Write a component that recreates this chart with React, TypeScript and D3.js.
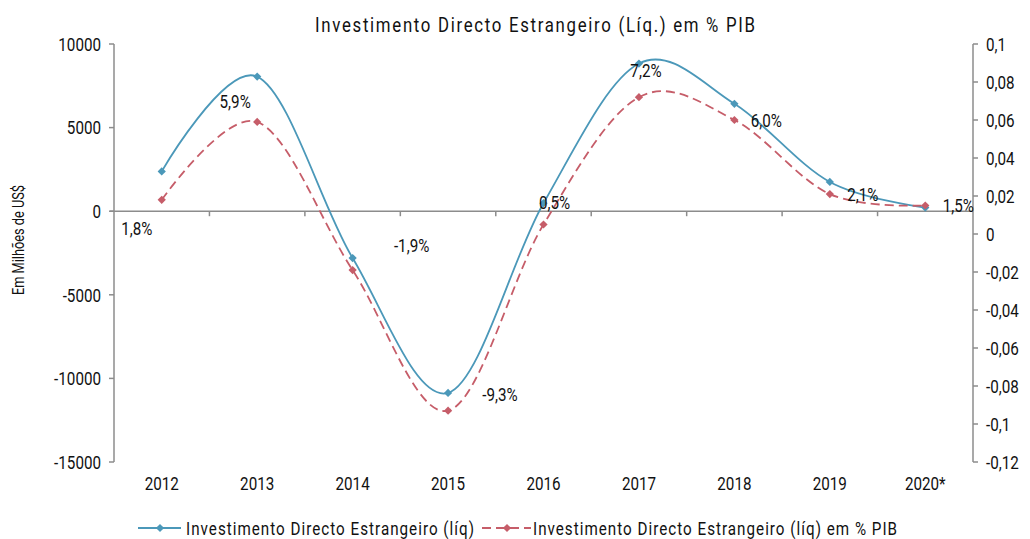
import React from 'react';
import * as d3 from 'd3';

const years = ['2012', '2013', '2014', '2015', '2016', '2017', '2018', '2019', '2020*'];
const fdiMillions = [2380, 8050, -2800, -10870, 480, 8830, 6420, 1750, 220];
const fdiPctGdp = [0.018, 0.059, -0.019, -0.093, 0.005, 0.072, 0.06, 0.021, 0.015];
const pctLabels = ['1,8%', '5,9%', '-1,9%', '-9,3%', '0,5%', '7,2%', '6,0%', '2,1%', '1,5%'];
const leftTicks = [10000, 5000, 0, -5000, -10000, -15000];
const rightTicks = [0.1, 0.08, 0.06, 0.04, 0.02, 0, -0.02, -0.04, -0.06, -0.08, -0.1, -0.12];

const title = 'Investimento Directo Estrangeiro (Líq.) em % PIB';
const yTitle = 'Em Milhões de US$';
const legend1 = 'Investimento Directo Estrangeiro (líq)';
const legend2 = 'Investimento Directo Estrangeiro (líq) em % PIB';

// label placement offsets relative to the % marker (layout only)
const labelOffsets: [number, number][] = [
  [-25, 28], [-22, -21], [59, -25], [52, -17], [11, -22], [7, -27], [32, 0], [33, 0], [33, 0],
];

const W = 1030;
const H = 539;
const FONT = "Roboto, 'Liberation Sans', sans-serif";
const BLUE = '#4b98b9';
const RED = '#c65d69';
const AXIS = '#8c8c8c';
const SX = 0.8;

type TP = {
  x: number;
  y: number;
  anchor?: 'start' | 'middle' | 'end';
  size?: number;
  dy?: string;
  len?: number;
  rotate?: number;
  children: React.ReactNode;
};

function T({ x, y, anchor = 'start', size = 19, dy, len, rotate, children }: TP) {
  const tr = `translate(${x},${y})${rotate ? ` rotate(${rotate})` : ''} scale(${SX},1)`;
  return (
    <g transform={tr}>
      <text
        x={0}
        y={0}
        dy={dy}
        fontSize={size}
        textAnchor={anchor}
        fill="#111"
        textLength={len ? len / SX : undefined}
        lengthAdjust={len ? 'spacing' : undefined}
      >
        {children}
      </text>
    </g>
  );
}

export default function App() {
  const x0 = 114;
  const x1 = 973;
  const yTop = 44;
  const yBot = 462;
  const x = d3.scalePoint<string>().domain(years).range([x0, x1]).padding(0.5);
  const yL = d3.scaleLinear().domain([-15000, 10000]).range([yBot, yTop]);
  const yR = d3.scaleLinear().domain([-0.12, 0.1]).range([yBot, yTop]);
  const step = x.step();

  const lineL = d3
    .line<number>()
    .x((_, i) => x(years[i])!)
    .y((d) => yL(d))
    .curve(d3.curveCatmullRom.alpha(0));
  const lineR = d3
    .line<number>()
    .x((_, i) => x(years[i])!)
    .y((d) => yR(d))
    .curve(d3.curveCatmullRom.alpha(0));

  const marker = d3.symbol(d3.symbolSquare, 34)()!;
  const y0 = yL(0);

  return (
    <svg width={W} height={H} style={{ position: 'absolute', left: 0, top: 0 }} fontFamily={FONT}>
      <rect width={W} height={H} fill="#fff" />
      <T x={315} y={32} size={21} len={440}>
        {title}
      </T>

      {/* left axis */}
      <line x1={x0} x2={x0} y1={yTop} y2={yBot} stroke={AXIS} strokeWidth={1.5} />
      {leftTicks.map((t) => (
        <g key={'l' + t}>
          <line x1={x0 - 5} x2={x0} y1={yL(t)} y2={yL(t)} stroke={AXIS} strokeWidth={1.5} />
          <T x={101} y={yL(t)} dy="0.36em" anchor="end">
            {t}
          </T>
        </g>
      ))}

      {/* right axis */}
      <line x1={x1} x2={x1} y1={yTop} y2={yBot} stroke={AXIS} strokeWidth={1.5} />
      {rightTicks.map((t) => (
        <g key={'r' + t}>
          <line x1={x1} x2={x1 + 5} y1={yR(t)} y2={yR(t)} stroke={AXIS} strokeWidth={1.5} />
          <T x={986} y={yR(t)} dy="0.36em">
            {String(+t.toFixed(2)).replace('.', ',')}
          </T>
        </g>
      ))}

      {/* category axis at 0 */}
      <line x1={x0 - 4} x2={x1} y1={y0} y2={y0} stroke={AXIS} strokeWidth={1.5} />
      {years.slice(1).map((yr) => (
        <line key={'t' + yr} x1={x(yr)! - step / 2} x2={x(yr)! - step / 2} y1={y0} y2={y0 + 5} stroke={AXIS} strokeWidth={1.5} />
      ))}
      {years.map((yr) => (
        <T key={'c' + yr} x={x(yr)!} y={490} anchor="middle">
          {yr}
        </T>
      ))}

      {/* y title */}
      <T x={24} y={240} rotate={-90} size={16} anchor="middle">
        {yTitle}
      </T>

      {/* series */}
      <path d={lineL(fdiMillions)!} fill="none" stroke={BLUE} strokeWidth={1.8} />
      <path d={lineR(fdiPctGdp)!} fill="none" stroke={RED} strokeWidth={1.8} strokeDasharray="9,5" />
      {fdiMillions.map((v, i) => (
        <path key={'mb' + i} d={marker} transform={`translate(${x(years[i])},${yL(v)}) rotate(45)`} fill={BLUE} />
      ))}
      {fdiPctGdp.map((v, i) => (
        <path key={'mr' + i} d={marker} transform={`translate(${x(years[i])},${yR(v)}) rotate(45)`} fill={RED} />
      ))}

      {/* data labels */}
      {pctLabels.map((lab, i) => (
        <T key={'dl' + i} x={x(years[i])! + labelOffsets[i][0]} y={yR(fdiPctGdp[i]) + labelOffsets[i][1]} dy="0.36em" anchor="middle">
          {lab}
        </T>
      ))}

      {/* legend */}
      <line x1={138} x2={181} y1={528} y2={528} stroke={BLUE} strokeWidth={1.8} />
      <path d={marker} transform="translate(160,528) rotate(45)" fill={BLUE} />
      <T x={186} y={535} len={288}>
        {legend1}
      </T>
      <line x1={482} x2={531} y1={528} y2={528} stroke={RED} strokeWidth={1.8} strokeDasharray="9,5" />
      <path d={marker} transform="translate(507,528) rotate(45)" fill={RED} />
      <T x={533} y={535} len={364}>
        {legend2}
      </T>
    </svg>
  );
}
